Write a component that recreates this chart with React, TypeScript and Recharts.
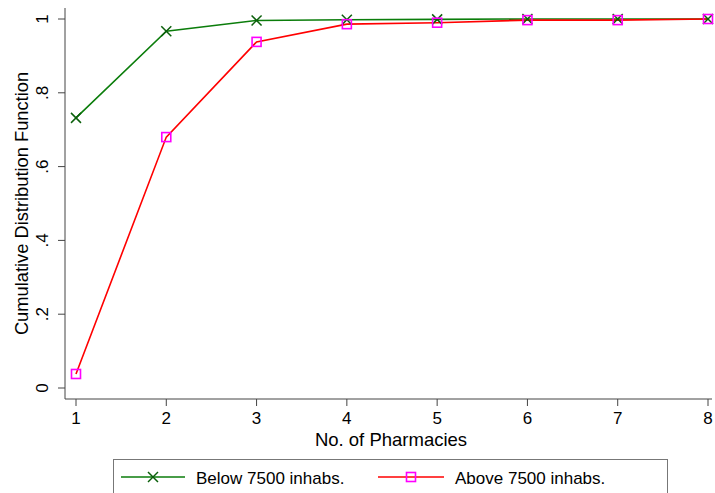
import { LineChart, Line, XAxis, YAxis } from 'recharts';

const pharmacies = [1, 2, 3, 4, 5, 6, 7, 8];
const belowCdf = [0.732, 0.967, 0.996, 0.998, 0.999, 1, 1, 1];
const aboveCdf = [0.038, 0.68, 0.938, 0.986, 0.99, 0.997, 0.997, 1];
const yTicks = [0, 0.2, 0.4, 0.6, 0.8, 1];
const seriesNames = ['Below 7500 inhabs.', 'Above 7500 inhabs.'];

const data = pharmacies.map((n, i) => ({ n, below: belowCdf[i], above: aboveCdf[i] }));

const FONT = '"Liberation Sans", Arial, Helvetica, sans-serif';
const GREEN = '#0b7d0b';
const GREEN_MARK = '#0a5f0a';
const RED = '#ff0000';
const MAGENTA = '#ff00ff';
const AXIS = '#444444';

const fmtY = (v: number) => (v === 0 ? '0' : v === 1 ? '1' : String(v).replace(/^0/, ''));

const CrossDot = (props: any) => {
    const { cx, cy } = props;
    if (cx == null || cy == null) return null;
    const s = 5;
    return (
        <g stroke={GREEN_MARK} strokeWidth={1.5}>
            <line x1={cx - s} y1={cy - s} x2={cx + s} y2={cy + s} />
            <line x1={cx - s} y1={cy + s} x2={cx + s} y2={cy - s} />
        </g>
    );
};

const SquareDot = (props: any) => {
    const { cx, cy } = props;
    if (cx == null || cy == null) return null;
    return <rect x={cx - 4.5} y={cy - 4.5} width={9} height={9} fill="none" stroke={MAGENTA} strokeWidth={1.6} />;
};

const YTick = (props: any) => {
    const { x, y, payload } = props;
    const bx = x - 8;
    return (
        <text x={bx} y={y} textAnchor="middle" transform={`rotate(-90, ${bx}, ${y})`}
            fontSize={17} fontFamily={FONT} fill="#000">
            {fmtY(payload.value)}
        </text>
    );
};

const XTick = (props: any) => {
    const { x, y, payload } = props;
    return (
        <text x={x} y={y} dy={16} textAnchor="middle" fontSize={17} fontFamily={FONT} fill="#000">
            {payload.value}
        </text>
    );
};

const App = () => {
    return (
        <div style={{ position: 'absolute', left: 0, top: 0, width: 715, height: 493, background: '#fff', overflow: 'hidden' }}>
            <LineChart width={715} height={493} data={data} margin={{ top: 8, right: 3, bottom: 54, left: 0 }}>
                <XAxis
                    dataKey="n"
                    type="number"
                    domain={[1, 8]}
                    ticks={pharmacies}
                    padding={{ left: 11, right: 4 }}
                    stroke={AXIS}
                    tickSize={7}
                    tick={<XTick />}
                    height={40}
                    label={() => (
                        <text x={391} y={446} textAnchor="middle" fontSize={18.5} fontFamily={FONT} fill="#000">
                            No. of Pharmacies
                        </text>
                    )}
                />
                <YAxis
                    type="number"
                    domain={[0, 1]}
                    ticks={yTicks}
                    padding={{ top: 11, bottom: 11 }}
                    stroke={AXIS}
                    tickSize={7}
                    tick={<YTick />}
                    width={65}
                    label={() => (
                        <text x={28} y={203.5} textAnchor="middle" transform="rotate(-90, 28, 203.5)"
                            fontSize={18.3} fontFamily={FONT} fill="#000">
                            Cumulative Distribution Function
                        </text>
                    )}
                />
                <Line dataKey="below" name={seriesNames[0]} stroke={GREEN} strokeWidth={1.6} dot={<CrossDot />} activeDot={false} isAnimationActive={false} />
                <Line dataKey="above" name={seriesNames[1]} stroke={RED} strokeWidth={1.6} dot={<SquareDot />} activeDot={false} isAnimationActive={false} />
            </LineChart>
            <svg width={715} height={493} style={{ position: 'absolute', left: 0, top: 0, pointerEvents: 'none' }}>
                <rect x={113.5} y={459.5} width={554} height={40} fill="none" stroke="#777" strokeWidth={1} />
                <line x1={121} y1={477} x2={185} y2={477} stroke={GREEN} strokeWidth={1.6} />
                <CrossDot cx={153} cy={477} />
                <text x={196} y={484} fontSize={17} fontFamily={FONT} fill="#000">{seriesNames[0]}</text>
                <line x1={378} y1={477} x2={444} y2={477} stroke={RED} strokeWidth={1.6} />
                <SquareDot cx={411} cy={477} />
                <text x={455} y={484} fontSize={17} fontFamily={FONT} fill="#000">{seriesNames[1]}</text>
            </svg>
        </div>
    );
};

export default App;
